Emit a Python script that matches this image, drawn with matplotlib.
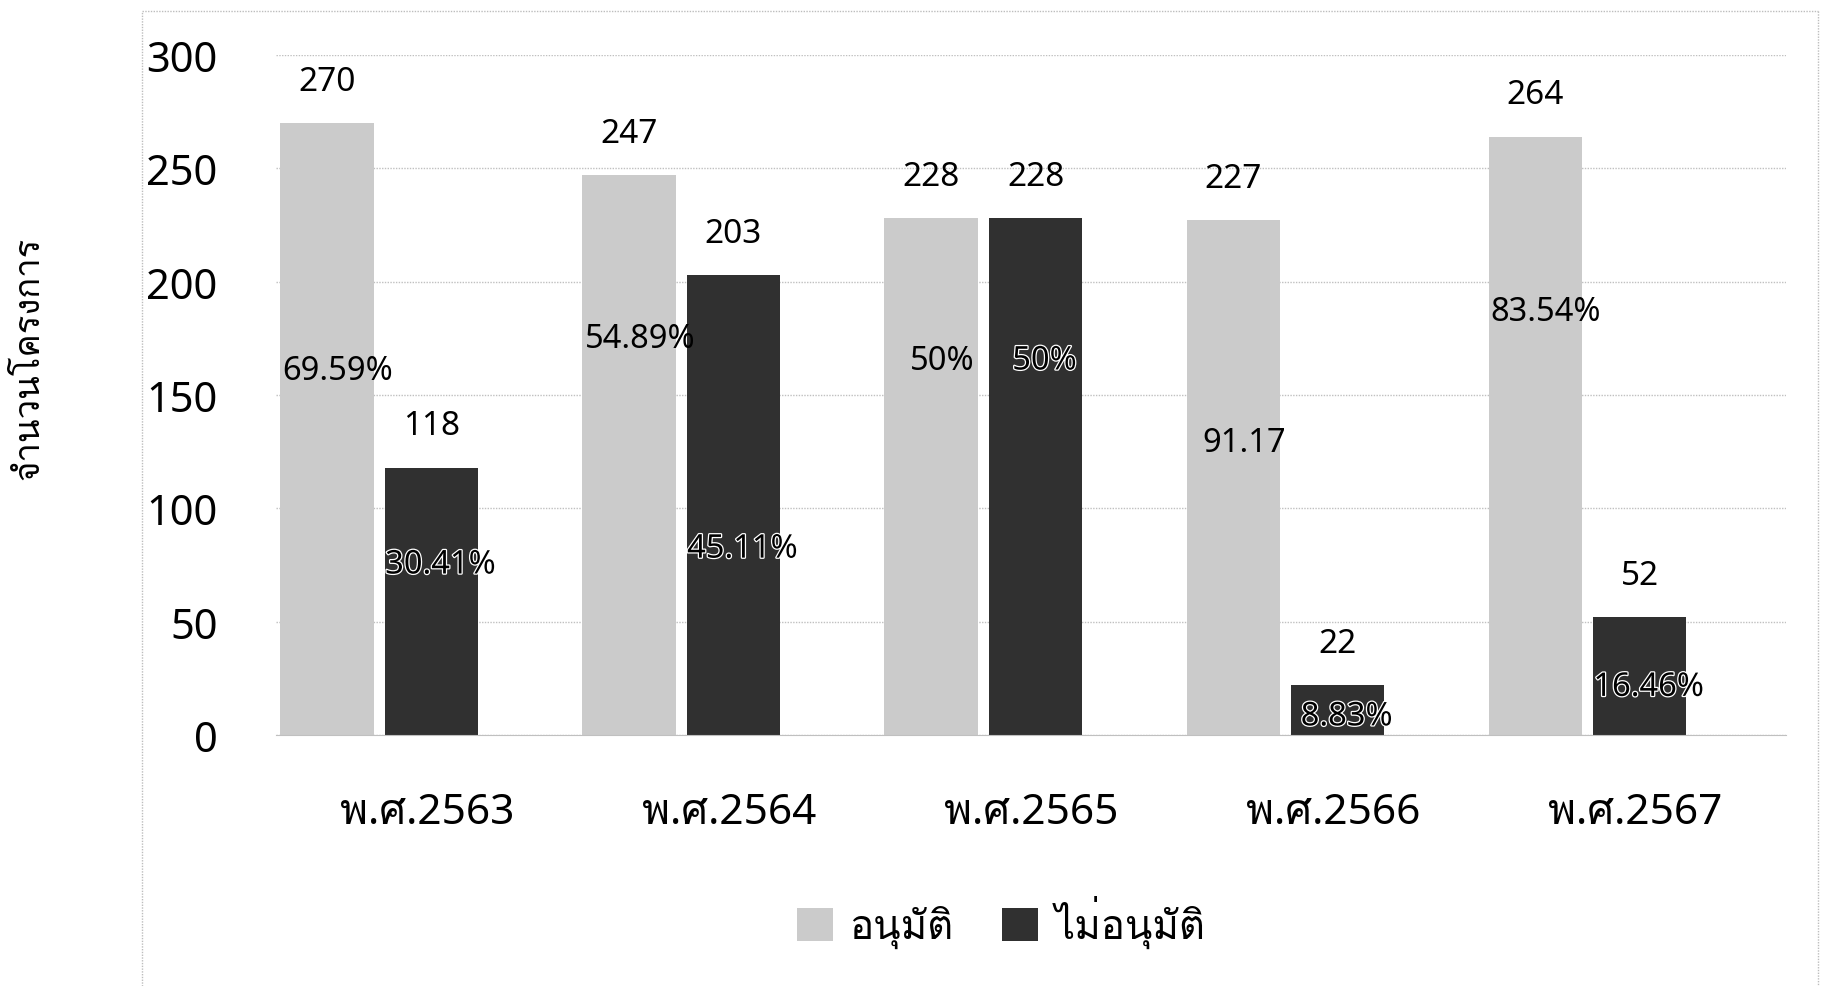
import numpy as np
import matplotlib
matplotlib.use("Agg")
import matplotlib.pyplot as plt
import matplotlib.patheffects as pe
from matplotlib import font_manager
from matplotlib.ft2font import FT2Font
from matplotlib.lines import Line2D
from matplotlib.patches import Patch

years = ["พ.ศ.2563", "พ.ศ.2564", "พ.ศ.2565", "พ.ศ.2566", "พ.ศ.2567"]
approved = [270, 247, 228, 227, 264]
rejected = [118, 203, 228, 22, 52]
approved_pct = ["69.59%", "54.89%", "50%", "91.17", "83.54%"]
rejected_pct = ["30.41%", "45.11%", "50%", "8.83%", "16.46%"]
series_names = ["อนุมัติ", "ไม่อนุมัติ"]
y_title = "จำนวนโครงการ"

# where the percent labels sit (hand placed in the original)
approved_pct_y = [161, 175, 165, 129, 187]
rejected_pct_y = [75, 82, 165, 8, 21]


def find_thai_font():
    for f in font_manager.fontManager.ttflist:
        try:
            ft = FT2Font(f.fname)
            if ft.get_char_index(ord("อ")) and ft.get_char_index(ord("ุ")):
                return f.name
        except Exception:
            continue
    return None


thai = find_thai_font()
families = ["Noto Sans"] + ([thai] if thai else []) + ["DejaVu Sans"]
plt.rcParams["font.family"] = families

light = "#cbcbcb"
dark = "#303030"

fig = plt.figure(figsize=(18.27, 9.87), dpi=100)
ax = fig.add_axes([0.151, 0.2543, 0.8266, 0.689])

x = np.arange(len(years))
w = 0.31
# bars sit left of the category label in the original
xa = x - 0.33
xr = x + 0.015

ax.bar(xa, approved, w, color=light, zorder=2)
ax.bar(xr, rejected, w, color=dark, zorder=2)

for i in range(len(years)):
    ax.annotate(str(approved[i]), (xa[i], approved[i]), xytext=(0, 30),
                textcoords="offset points", ha="center", va="center", fontsize=24)
    ax.annotate(str(rejected[i]), (xr[i], rejected[i]), xytext=(0, 30),
                textcoords="offset points", ha="center", va="center", fontsize=24)
    ax.text(xa[i] + 0.035, approved_pct_y[i], approved_pct[i], ha="center",
            va="center", fontsize=23.5, color="black", zorder=3)
    ax.text(xr[i] + 0.03, rejected_pct_y[i], rejected_pct[i], ha="center",
            va="center", fontsize=23.5, color="black", zorder=3,
            path_effects=[pe.withStroke(linewidth=1.8, foreground="white")])

ax.set_xlim(-0.5, len(years) - 0.5)
ax.set_ylim(0, 300)
ax.set_yticks(np.arange(0, 301, 50))
ax.set_xticks(x)
ax.set_xticklabels(years, fontsize=30.5)
ax.tick_params(axis="y", labelsize=30, length=0, pad=42)
ax.tick_params(axis="x", length=0, pad=40)
ax.yaxis.grid(True, color="#c0c0c0", linestyle=(0, (1, 1)), linewidth=1, zorder=0)
for s in ["top", "right", "left"]:
    ax.spines[s].set_visible(False)
ax.spines["bottom"].set_color("#c0c0c0")
ax.spines["bottom"].set_linestyle((0, (1, 1)))
ax.set_ylabel(y_title, fontsize=25)
ax.yaxis.set_label_coords(-0.152, 0.555)

handles = [Patch(facecolor=light, label=series_names[0]),
           Patch(facecolor=dark, label=series_names[1])]
fig.legend(handles=handles, loc="center", bbox_to_anchor=(0.548, 0.065), ncol=2,
           frameon=False, fontsize=29, handlelength=0.9, handleheight=0.9,
           handletextpad=0.4, columnspacing=1.2)

# faint outer frame of the chart area
fl, ft_, fr = 142 / 1827, 1 - 12 / 987, 1818 / 1827
for xs, ys in [([fl, fl], [0, ft_]), ([fl, fr], [ft_, ft_]), ([fr, fr], [ft_, 0])]:
    fig.add_artist(Line2D(xs, ys, color="#bdbdbd", linewidth=1, linestyle=(0, (1, 1))))

fig.savefig("out.png", dpi=100)
